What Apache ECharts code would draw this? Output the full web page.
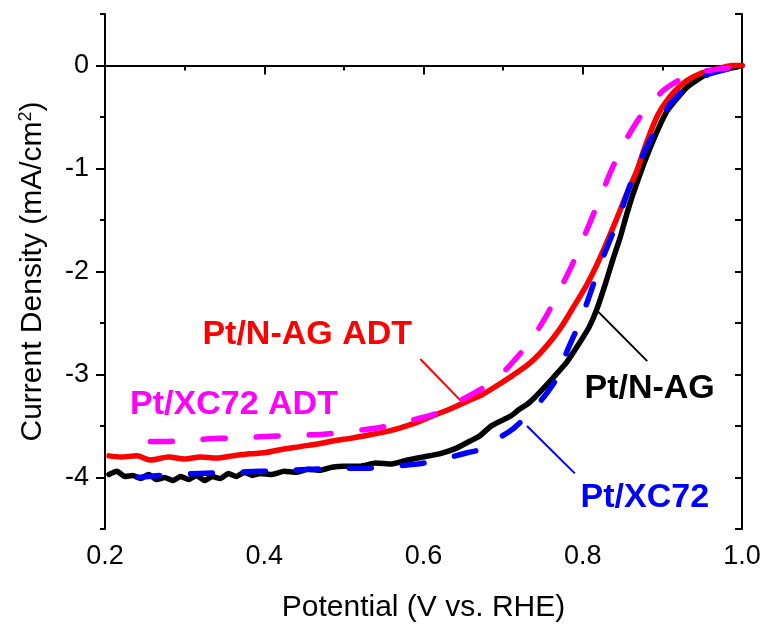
<!DOCTYPE html>
<html>
<head>
<meta charset="utf-8">
<script src="https://cdn.jsdelivr.net/npm/echarts@6/dist/echarts.min.js"></script>
<style>html,body{margin:0;padding:0;background:#fff}#c{width:764px;height:628px}</style>
</head>
<body>
<div id="c"></div>
<script>
// Pt/N-AG (black, solid)
const potNAG = [0.205,0.215,0.225,0.235,0.245,0.255,0.265,0.275,0.285,0.295,0.305,0.315,0.325,0.335,0.345,0.355,0.365,0.375,0.385,0.395,0.41,0.425,0.44,0.455,0.47,0.485,0.5,0.52,0.54,0.56,0.58,0.6,0.62,0.64,0.655,0.67,0.685,0.7,0.71,0.72,0.73,0.74,0.75,0.763,0.78,0.797,0.808,0.818,0.828,0.838,0.847,0.855,0.863,0.876,0.89,0.906,0.931,0.956,0.975,0.99,1.0];
const curNAG = [-3.97,-3.94,-3.99,-3.98,-4.01,-3.97,-4.02,-4.0,-4.03,-3.99,-4.02,-3.98,-4.03,-3.99,-4.01,-3.96,-3.99,-3.95,-3.98,-3.96,-3.97,-3.94,-3.95,-3.92,-3.93,-3.90,-3.89,-3.89,-3.86,-3.87,-3.83,-3.80,-3.77,-3.72,-3.66,-3.60,-3.50,-3.44,-3.40,-3.34,-3.29,-3.22,-3.14,-3.03,-2.88,-2.68,-2.54,-2.36,-2.13,-1.88,-1.67,-1.45,-1.25,-0.97,-0.70,-0.44,-0.21,-0.08,-0.04,-0.02,0.0];
// Pt/N-AG ADT (red, solid)
const potNAGADT = [0.205,0.22,0.24,0.257,0.28,0.30,0.32,0.34,0.36,0.382,0.40,0.42,0.445,0.47,0.49,0.508,0.53,0.55,0.57,0.59,0.612,0.635,0.655,0.675,0.696,0.712,0.735,0.755,0.772,0.788,0.805,0.818,0.83,0.843,0.855,0.868,0.88,0.895,0.913,0.93,0.947,0.965,0.989,1.0];
const curNAGADT = [-3.79,-3.80,-3.79,-3.83,-3.80,-3.82,-3.80,-3.81,-3.79,-3.77,-3.76,-3.73,-3.70,-3.67,-3.64,-3.62,-3.59,-3.56,-3.52,-3.47,-3.40,-3.33,-3.26,-3.19,-3.09,-3.01,-2.88,-2.72,-2.55,-2.35,-2.13,-1.93,-1.72,-1.48,-1.25,-1.02,-0.75,-0.47,-0.27,-0.15,-0.08,-0.04,0.0,0.0];
// Pt/XC72 (blue, dashed)
const potXC72 = [0.241,0.27,0.319,0.36,0.395,0.43,0.461,0.5,0.529,0.56,0.592,0.62,0.655,0.675,0.69,0.712,0.738,0.755,0.768,0.78,0.797,0.81,0.822,0.835,0.847,0.86,0.876,0.893,0.91,0.935,0.96,0.99,1.0];
const curXC72 = [-4.0,-3.98,-3.96,-3.95,-3.94,-3.93,-3.92,-3.91,-3.91,-3.89,-3.87,-3.83,-3.76,-3.72,-3.64,-3.53,-3.34,-3.18,-3.03,-2.78,-2.48,-2.2,-1.93,-1.68,-1.44,-1.15,-0.86,-0.60,-0.37,-0.18,-0.08,-0.02,-0.01];
// Pt/XC72 ADT (magenta, dashed)
const potXC72ADT = [0.257,0.28,0.32,0.344,0.38,0.407,0.44,0.474,0.51,0.542,0.57,0.612,0.64,0.675,0.70,0.734,0.755,0.775,0.79,0.805,0.82,0.834,0.85,0.872,0.90,0.926,0.95,0.975,1.0];
const curXC72ADT = [-3.65,-3.65,-3.63,-3.62,-3.61,-3.60,-3.59,-3.58,-3.55,-3.52,-3.47,-3.39,-3.28,-3.13,-2.98,-2.68,-2.42,-2.12,-1.88,-1.60,-1.32,-1.05,-0.78,-0.50,-0.25,-0.12,-0.06,-0.03,-0.01];

const xTicks = [0.2,0.4,0.6,0.8,1.0];
const yTicks = [-4,-3,-2,-1,0];
const yHalfTicks = [-4.5,-3.5,-2.5,-1.5,-0.5,0.5];

// annotation labels (data coordinates)
const labelNames = ['Pt/N-AG ADT','Pt/XC72 ADT','Pt/N-AG','Pt/XC72'];
const labelPos = [[0.454,-2.61],[0.362,-3.29],[0.884,-3.14],[0.878,-4.20]];
const pointerFrom = [[0.596,-2.85],null,[0.818,-2.38],[0.730,-3.50]];
const pointerTo = [[0.650,-3.28],null,[0.881,-2.87],[0.790,-3.96]];
const colors = ['#ff0000','#ff00ff','#000000','#0000ff'];

const FONT = 'Liberation Sans, Arial, Helvetica, sans-serif';
const zip = (a,b)=>a.map((v,i)=>[v,b[i]]);

function annotations(i){
  const mp = {symbol:'circle',symbolSize:1,itemStyle:{color:'rgba(0,0,0,0)'},
    label:{show:true,position:'inside',formatter:labelNames[i],color:colors[i],fontFamily:FONT,fontWeight:'bold',fontSize:34},
    data:[{coord:labelPos[i]}],silent:true,animation:false};
  const res = {markPoint: mp};
  if (pointerFrom[i]) {
    res.markLine = {symbol:['none','none'],silent:true,animation:false,label:{show:false},
      lineStyle:{color:colors[i],width:2,type:'solid'},
      data:[[{coord:pointerFrom[i]},{coord:pointerTo[i]}]]};
  }
  return res;
}

const chart = echarts.init(document.getElementById('c'), null, {renderer:'canvas'});
const axisLine = {show:true,lineStyle:{color:'#000',width:2}};
const option = {
  backgroundColor:'#fff',
  animation:false,
  grid:{left:105,right:22,top:14,bottom:99,containLabel:false},
  xAxis:[{
    type:'value',min:0.2,max:1.0,interval:0.2,position:'bottom',
    name:'Potential (V vs. RHE)',nameLocation:'middle',nameGap:64,
    nameTextStyle:{fontFamily:FONT,fontSize:30,color:'#000'},
    axisLine:axisLine,
    axisTick:{show:true,inside:false,length:9,lineStyle:{color:'#000',width:2}},
    minorTick:{show:true,splitNumber:2,length:5,lineStyle:{color:'#000',width:2}},
    axisLabel:{show:true,margin:14,fontFamily:FONT,fontSize:27,color:'#000',
      customValues:xTicks,formatter:v=>v.toFixed(1)},
    splitLine:{show:false}
  },{
    type:'value',min:0.2,max:1.0,interval:0.2,position:'top',
    axisLine:axisLine,
    axisTick:{show:true,inside:true,length:3,lineStyle:{color:'#000',width:1.5}},
    minorTick:{show:false},
    axisLabel:{show:false},splitLine:{show:false}
  }],
  yAxis:[{
    type:'value',min:-4.5,max:0.5,interval:0.5,position:'left',
    name:'{a|Current Density (mA/cm}{s|2}{a|)}',nameLocation:'middle',nameGap:56,nameRotate:90,
    nameTextStyle:{fontFamily:FONT,fontSize:30,color:'#000',
      rich:{a:{fontFamily:FONT,fontSize:30,color:'#000'},s:{fontFamily:FONT,fontSize:18,color:'#000',verticalAlign:'top',padding:[0,0,14,0]}}},
    axisLine:axisLine,
    axisTick:{show:true,inside:false,length:9,customValues:yTicks,lineStyle:{color:'#000',width:2}},
    axisLabel:{show:true,margin:16,fontFamily:FONT,fontSize:27,color:'#000',customValues:yTicks,formatter:v=>String(Math.round(v))},
    splitLine:{show:false}
  },{
    type:'value',min:-4.5,max:0.5,interval:0.5,position:'left',
    axisLine:{show:false},
    axisTick:{show:true,inside:false,length:5,customValues:yHalfTicks,lineStyle:{color:'#000',width:2}},
    axisLabel:{show:false},splitLine:{show:false}
  },{
    type:'value',min:-4.5,max:0.5,interval:0.5,position:'right',
    axisLine:axisLine,
    axisTick:{show:true,inside:true,length:7,lineStyle:{color:'#000',width:2}},
    axisLabel:{show:false},splitLine:{show:false}
  }],
  series:[
    Object.assign({type:'line',name:'Pt/N-AG',data:zip(potNAG,curNAG),showSymbol:false,smooth:0.15,
      lineStyle:{color:'#000',width:5.5,cap:'round',join:'round'},z:2}, annotations(2)),
    Object.assign({type:'line',name:'Pt/N-AG ADT',data:zip(potNAGADT,curNAGADT),showSymbol:false,smooth:0.3,
      lineStyle:{color:'#ff0000',width:5.5,cap:'round',join:'round'},z:3}, annotations(0)),
    Object.assign({type:'line',name:'Pt/XC72',data:zip(potXC72,curXC72),showSymbol:false,smooth:0.2,
      lineStyle:{color:'#0000ff',width:5.5,type:[22,31],cap:'round'},z:4}, annotations(3)),
    Object.assign({type:'line',name:'Pt/XC72 ADT',data:zip(potXC72ADT,curXC72ADT),showSymbol:false,smooth:0.2,
      lineStyle:{color:'#ff00ff',width:5.5,type:[22,31],cap:'round'},z:5}, annotations(1))
  ]
};
chart.setOption(option);
</script>
</body>
</html>
